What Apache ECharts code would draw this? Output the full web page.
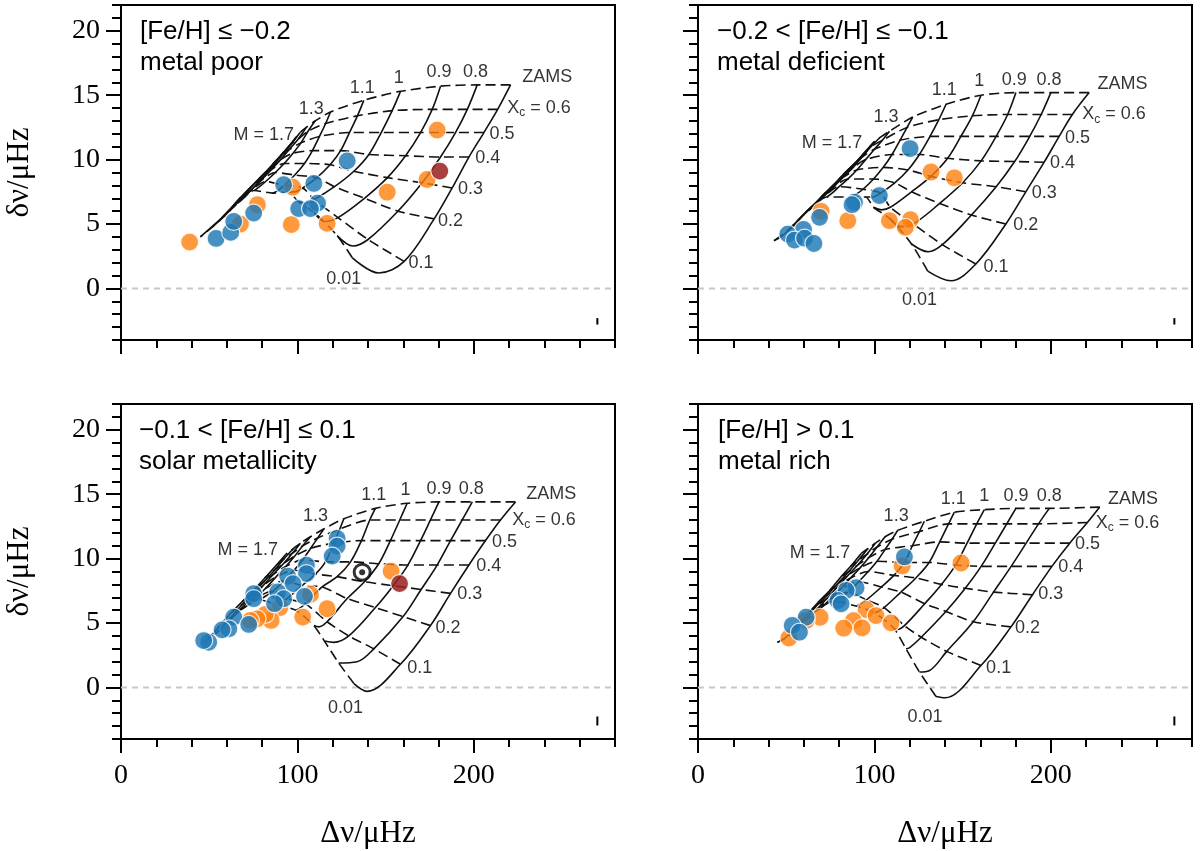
<!DOCTYPE html>
<html><head><meta charset="utf-8">
<script src="https://cdn.jsdelivr.net/npm/echarts@6.0.0/dist/echarts.min.js"></script>
<style>html,body{margin:0;padding:0;background:#fff}#c{width:1200px;height:851px}</style>
</head><body><div id="c"></div>
<script>
// ---------- tick values ----------
const xTicks = [0, 100, 200];
const yTicks = [0, 5, 10, 15, 20];
// Track point order: ZAMS, Xc=0.6, 0.5, 0.4, 0.3, 0.2, 0.1, hook, 0.01
const masses = ['0.7','0.8','0.9','1.0','1.1','1.2','1.3','1.4','1.5','1.6','1.7'];
const xcIndex = [0, 1, 2, 3, 4, 5, 6, 8];

// ---------- top-left: metal poor ----------
const tracksTL = [
 [[220.8,15.8],[213.5,13.9],[205.7,12.1],[197.2,10.2],[187.7,7.8],[177.5,5.4],[160.5,2.1],[146,1.2],[131,2.4]],
 [[201.9,15.8],[196.3,13.9],[189.6,12.1],[181.1,10.2],[170.7,8.2],[157,6.0],[140,3.8],[131.5,3.3],[122.5,4.1]],
 [[181.1,15.7],[176.4,13.9],[169.8,12.1],[161.3,10.3],[151,8.6],[138,7.0],[123,5.5],[115.5,5.2],[109.5,5.9]],
 [[158.4,15.3],[153.7,13.8],[147.5,12.1],[140.5,10.4],[132,9.1],[121,7.9],[109.5,6.9],[104.5,6.6],[100,6.8]],
 [[137.6,14.6],[134,13.4],[129.5,12.1],[124.5,10.7],[118.5,9.6],[111,8.6],[103,7.8],[98.5,7.5],[95,7.5]],
 [[118.7,13.7],[116,12.8],[112.5,11.8],[108.5,10.7],[104,9.7],[98.5,8.8],[92.5,8.0],[89,7.6],[86,7.4]],
 [[110,13.0],[106,12.2],[102,11.3],[97.5,10.5],[92.5,9.7],[87.5,9.0],[82,8.3],[78.5,7.9],[75.5,7.6]],
 [[105,12.5],[100.5,11.6],[95.5,10.8],[90.5,10.0],[85,9.2],[79.5,8.4],[73.5,7.6],[69.5,7.0],[66,6.6]],
 [[101.5,12.1],[96.5,11.2],[91,10.3],[85.5,9.4],[79.5,8.5],[73.5,7.6],[67,6.8],[62,6.1],[58.5,5.6]],
 [[99,11.7],[93,10.7],[87,9.8],[81,8.9],[74.5,8.0],[68,7.1],[61.5,6.1],[56,5.3],[52,4.8]],
 [[97,11.3],[90.5,10.3],[84,9.3],[77.5,8.4],[70.5,7.4],[63.5,6.4],[56.5,5.4],[50,4.6],[45,4.0]]
];
const blueTL = [[53.9,3.88],[62.2,4.35],[63.9,5.2],[75.2,5.85],[92.2,8.05],[109.3,8.15],[111.4,6.62],[100.7,6.2],[107.4,6.2],[128.2,9.9]];
const orangeTL = [[38.9,3.6],[67.7,5.0],[77.3,6.5],[97.3,7.86],[96.5,4.95],[116.8,5.05],[150.9,7.47],[173.5,8.46],[179.2,12.29]];
const redTL = [[180.7,9.11]];
const labelsTL = [['1.1',136.7,15.55],['1',157.5,16.3],['0.9',180.2,16.8],['0.8',200.9,16.8],['1.3',107.8,13.9],['M = 1.7',80.9,11.9],['ZAMS',241.6,16.4],['Xc = 0.6',236.9,14.0],['0.5',216,12.0],['0.4',207.9,10.1],['0.3',198.1,7.7],['0.2',186.8,5.26],['0.1',170.1,2.0],['0.01',126.3,0.7]];
const titleTL = ['[Fe/H] \u2264 \u22120.2', 'metal poor'];
const errTL = [270, -2.8, -2.3];

// ---------- top-right: metal deficient ----------
const tracksTR = [
 [[221.7,15.2],[212.2,13.5],[204.7,11.8],[196.2,9.8],[185.8,7.5],[174.5,5.0],[157.5,1.9],[143.4,0.6],[130.2,1.35]],
 [[200,15.2],[194.5,13.5],[188,11.8],[179.5,9.85],[169,7.9],[155,5.7],[138.5,3.4],[130.5,2.85],[121,3.45]],
 [[180.2,15.2],[175.5,13.5],[169,11.8],[160.5,9.9],[150,8.2],[137,6.6],[122,5.0],[115,4.8],[109,5.4]],
 [[160.4,15.0],[155.5,13.4],[149,11.8],[141.5,10.1],[132,8.7],[121,7.5],[109,6.3],[104,6.1],[99.5,6.3]],
 [[140.6,14.3],[136.5,13.1],[131.5,11.8],[125.5,10.4],[119,9.2],[111.5,8.2],[103.5,7.4],[99,7.1],[95,7.1]],
 [[121.7,13.3],[118.5,12.5],[114.5,11.5],[110,10.4],[105,9.4],[99.5,8.5],[93.5,7.7],[89.5,7.3],[86.5,7.1]],
 [[108.5,12.2],[104.5,11.5],[100,10.8],[95,10.0],[90,9.2],[85,8.5],[80,7.9],[76,7.4],[73,7.1]],
 [[103,11.7],[98,11.0],[93,10.2],[88,9.4],[82,8.6],[77,7.9],[71,7.1],[67,6.6],[64,6.2]],
 [[100,11.4],[94,10.5],[88,9.6],[82,8.8],[76,7.9],[70,7.1],[64,6.3],[59,5.6],[56,5.2]],
 [[98,11.1],[92,10.1],[85,9.2],[79,8.3],[72,7.4],[66,6.5],[59,5.6],[54,4.8],[50,4.4]],
 [[96,10.7],[89,9.7],[82,8.7],[75,7.8],[68,6.8],[61,5.9],[54,4.9],[48,4.1],[43,3.7]]
];
const blueTR = [[120.2,10.86],[102.8,7.21],[88.7,6.69],[87.3,6.5],[68.9,5.52],[59.8,4.58],[50.9,4.22],[54.7,3.75],[60.4,3.9],[65.7,3.49]];
const orangeTR = [[69.8,5.99],[132.1,9.04],[145.3,8.59],[84.9,5.26],[108.5,5.26],[120.4,5.34],[117.5,4.74]];
const redTR = [];
const labelsTR = [['1.1',139.6,15.4],['1',159.4,16.1],['0.9',179.2,16.2],['0.8',199,16.2],['1.3',106.6,13.3],['M = 1.7',76,11.3],['ZAMS',240.6,15.9],['Xc = 0.6',235.8,13.5],['0.5',215.1,11.7],['0.4',206.6,9.7],['0.3',196.2,7.4],['0.2',185.8,4.9],['0.1',168.9,1.7],['0.01',125.5,-0.9]];
const titleTR = ['\u22120.2 < [Fe/H] \u2264 \u22120.1', 'metal deficient'];
const errTR = [270, -2.8, -2.3];

// ---------- bottom-left: solar metallicity ----------
const tracksBL = [
 [[223.6,14.4],[215.1,13.0],[206.6,11.4],[197.2,9.5],[186.8,7.3],[175.4,4.8],[158.4,1.8],[139.5,-0.3],[132.0,0.3]],
 [[199.1,14.4],[193.4,13.0],[186.8,11.4],[179.2,9.5],[170.1,7.6],[159.9,5.5],[143.3,3.0],[133.8,2.0],[123.4,1.9]],
 [[180.2,14.4],[175.4,13.0],[169.8,11.4],[162.6,9.5],[154.3,7.9],[144.2,6.2],[129.1,4.0],[120.6,3.5],[115.3,3.6]],
 [[162.2,14.3],[158.0,13.0],[152.7,11.4],[146.1,9.6],[138.0,8.2],[128.2,6.9],[116.8,5.1],[112.1,4.7],[109.3,4.8]],
 [[144.2,13.9],[141.0,13.0],[136.3,11.4],[130.1,9.75],[122.5,8.6],[114.0,7.8],[104.5,6.5],[100.8,6.1],[98.9,6.0]],
 [[126.3,13.1],[124.0,12.3],[120.6,11.2],[115.9,9.75],[110.2,8.8],[102.6,7.9],[94.1,6.9],[90.4,6.55],[88.5,6.4]],
 [[114.9,12.3],[111.5,11.6],[107.5,10.8],[103,9.9],[98,9.1],[92.5,8.3],[86.5,7.5],[82,7.1],[78.5,6.8]],
 [[107.4,11.7],[103,11.0],[98.5,10.2],[93.5,9.4],[88,8.6],[82,7.7],[76,6.9],[71,6.3],[67.5,6.0]],
 [[101.7,11.2],[97,10.4],[92,9.6],[86.5,8.8],[80.5,7.9],[74.5,7.0],[68,6.1],[63,5.4],[59.5,5.0]],
 [[97.9,10.8],[92.5,10.0],[87,9.1],[81,8.2],[75,7.3],[68.5,6.4],[62,5.4],[57,4.6],[53,4.1]],
 [[93.2,10.3],[87.5,9.4],[81.5,8.5],[75.5,7.6],[69,6.7],[62.5,5.8],[56,4.8],[51,4.0],[47,3.5]]
];
const orangeBL = [[153.1,9.02],[107.4,7.22],[116.8,6.11],[103,5.46],[90,6.19],[85.1,5.2],[81.8,5.67],[77.1,5.33],[73.3,5.2]];
const blueBL = [[122.5,11.56],[122.5,10.97],[119.7,10.19],[105.1,9.49],[105.1,8.84],[94.5,8.63],[97.5,8.06],[75.2,7.28],[75.2,6.89],[88.8,7.41],[92.2,6.89],[104,7.07],[87,6.5],[63.9,5.46],[72.4,4.89],[61.1,4.55],[57.3,4.47],[49.7,3.51],[46.9,3.64]];
const redBL = [[157.9,8.06]];
const sunBL = [[136.7,8.95]];
const labelsBL = [['1.1',143.3,14.94],['1',161.2,15.3],['0.9',180.2,15.4],['0.8',198.5,15.4],['1.3',110.2,13.3],['M = 1.7',71.8,10.7],['ZAMS',243.9,15.0],['Xc = 0.6',239.7,13.0],['0.5',217.4,11.3],['0.4',208.5,9.43],['0.3',197.7,7.22],['0.2',185.3,4.6],['0.1',169.4,1.5],['0.01',127.2,-1.56]];
const titleBL = ['\u22120.1 < [Fe/H] \u2264 0.1', 'solar metallicity'];
const errBL = [270, -2.95, -2.25];

// ---------- bottom-right: metal rich ----------
const tracksBR = [
 [[227.7,14.0],[220.7,12.8],[210.7,11.2],[200.6,9.4],[189.6,7.2],[177.4,4.7],[160.4,1.7],[140,-0.8],[134.9,-0.7]],
 [[199.1,13.9],[193,12.7],[186,11.2],[177.5,9.4],[167.5,7.4],[156,5.1],[141,2.8],[131,1.3],[125.5,1.2]],
 [[180.2,13.9],[175,12.7],[168.5,11.2],[160.5,9.4],[151.5,7.7],[140.5,5.9],[126.5,3.9],[120,3.1],[117.9,3.0]],
 [[162.3,13.8],[158,12.7],[152.5,11.2],[146,9.5],[138,8.0],[128.5,6.5],[117,4.8],[113,4.5],[111,4.6]],
 [[145.3,13.6],[142,12.7],[137,11.3],[131,9.7],[123.5,8.5],[115,7.4],[105.5,6.2],[102,5.9],[100,5.8]],
 [[128.3,12.9],[125.5,12.1],[121.5,11.0],[117,9.7],[111,8.7],[104,7.8],[95.5,6.8],[92,6.5],[90,6.3]],
 [[113.2,12.2],[110,11.5],[106,10.7],[101.5,9.8],[96.5,9.0],[91,8.2],[85,7.4],[80.5,7.0],[77,6.7]],
 [[106,11.7],[101.5,10.9],[97,10.1],[92,9.3],[86.5,8.5],[80.5,7.6],[74.5,6.8],[70,6.2],[66.5,5.9]],
 [[100.5,11.2],[95.5,10.3],[90.5,9.5],[85,8.7],[79,7.8],[73,6.9],[67,6.0],[62,5.3],[58.5,4.9]],
 [[96.5,10.8],[91,9.9],[85.5,9.0],[79.5,8.1],[73.5,7.2],[67,6.3],[60.5,5.3],[55.5,4.5],[51.5,4.0]],
 [[92.5,10.4],[86.5,9.4],[80.5,8.5],[74.5,7.5],[68,6.6],[61.5,5.6],[55,4.7],[50,3.9],[45,3.5]]
];
const blueBR = [[117,10.13],[89.6,7.74],[84,7.53],[79.2,6.75],[81.1,6.49],[61.3,5.45],[53.4,4.81],[57.5,4.29]];
const orangeBR = [[115.7,9.43],[149.1,9.66],[95.3,6.05],[100.9,5.58],[109.4,5.01],[88.1,5.19],[93,4.62],[82.6,4.6],[69.2,5.45],[61.3,5.19],[51.5,3.84]];
const redBR = [];
const labelsBR = [['1.1',144.7,14.6],['1',162.3,14.86],['0.9',180.2,14.86],['0.8',199.1,14.86],['1.3',112.3,13.3],['M = 1.7',69.2,10.4],['ZAMS',246.6,14.6],['Xc = 0.6',243.4,12.8],['0.5',220.8,11.1],['0.4',211.3,9.35],['0.3',200,7.22],['0.2',186.8,4.62],['0.1',170.4,1.5],['0.01',128.7,-2.3]];
const titleBR = ['[Fe/H] > 0.1', 'metal rich'];
const errBR = [270, -2.95, -2.25];

// ---------- build ----------
const panels = [
  {tracks: tracksTL, blue: blueTL, orange: orangeTL, red: redTL, labels: labelsTL, title: titleTL, err: errTL, showX: false, showY: true},
  {tracks: tracksTR, blue: blueTR, orange: orangeTR, red: redTR, labels: labelsTR, title: titleTR, err: errTR, showX: false, showY: false},
  {tracks: tracksBL, blue: blueBL, orange: orangeBL, red: redBL, labels: labelsBL, title: titleBL, err: errBL, showX: true, showY: true, sun: sunBL},
  {tracks: tracksBR, blue: blueBR, orange: orangeBR, red: redBR, labels: labelsBR, title: titleBR, err: errBR, showX: true, showY: false}
];
const layout = [{left:121, top:5, tx:140, ty:32}, {left:698, top:5, tx:717, ty:32}, {left:121, top:404, tx:139, ty:431}, {left:698, top:404, tx:718, ty:431}];
const GW = 494, GH = 335;
const SANS = '"Liberation Sans", Arial, sans-serif';
const SERIF = '"Liberation Serif", "Times New Roman", serif';
const tickStyle = {color:'#000', width:2};

const grids = [], xAxes = [], yAxes = [], series = [], graphics = [];
panels.forEach((p, i) => {
  const L = layout[i];
  grids.push({left: L.left, top: L.top, width: GW, height: GH, show: true, borderColor: '#000', borderWidth: 2, backgroundColor: 'transparent'});
  xAxes.push({gridIndex: i, type: 'value', position: 'bottom', min: 0, max: 280, interval: 20,
    axisLine: {show: true, onZero: false, lineStyle: tickStyle},
    axisTick: {show: true, length: 8, lineStyle: tickStyle}, axisLabel: {show: false}, splitLine: {show: false}});
  xAxes.push({gridIndex: i, type: 'value', position: 'bottom', min: 0, max: 280,
    axisLine: {show: false, onZero: false},
    axisTick: {show: true, length: 14, customValues: xTicks, lineStyle: tickStyle},
    axisLabel: {show: p.showX, customValues: xTicks, fontFamily: SERIF, fontSize: 28, color: '#000', margin: 23},
    splitLine: {show: false},
    name: p.showX ? '\u0394\u03bd/\u03bcHz' : '', nameLocation: 'middle', nameGap: 79,
    nameTextStyle: {fontFamily: SERIF, fontSize: 31, color: '#000'}});
  yAxes.push({gridIndex: i, type: 'value', position: 'left', min: -4, max: 22, interval: 1,
    axisLine: {show: true, onZero: false, lineStyle: tickStyle},
    axisTick: {show: true, length: 9, lineStyle: tickStyle}, axisLabel: {show: false}, splitLine: {show: false}});
  yAxes.push({gridIndex: i, type: 'value', position: 'left', min: -4, max: 22,
    axisLine: {show: false, onZero: false},
    axisTick: {show: true, length: 15, customValues: yTicks, lineStyle: tickStyle},
    axisLabel: {show: p.showY, customValues: yTicks, fontFamily: SERIF, fontSize: 28, color: '#000', margin: 21},
    splitLine: {show: false},
    name: p.showY ? '\u03b4\u03bd/\u03bcHz' : '', nameLocation: 'middle', nameGap: 86, nameRotate: 90,
    nameTextStyle: {fontFamily: SERIF, fontSize: 31, color: '#000'}});
  const ax = {xAxisIndex: 2 * i, yAxisIndex: 2 * i};
  // zero reference line
  series.push(Object.assign({type: 'line', data: [[0, 0], [280, 0]], symbol: 'none', silent: true, z: 1,
    lineStyle: {color: '#c8c8c8', width: 2, type: [6, 5]}}, ax));
  // evolutionary tracks (solid)
  p.tracks.forEach((t, m) => {
    series.push(Object.assign({type: 'line', name: 'M' + masses[m], data: t, symbol: 'none', smooth: 0.35, silent: true, z: 2,
      lineStyle: {color: '#111', width: 1.6}}, ax));
  });
  // iso-Xc lines (dashed)
  xcIndex.forEach(k => {
    series.push(Object.assign({type: 'line', data: p.tracks.map(t => t[k]), symbol: 'none', smooth: 0.25, silent: true, z: 2,
      lineStyle: {color: '#111', width: 1.6, type: [10, 5]}}, ax));
  });
  // stars
  const dot = (data, color, op, z) => Object.assign({type: 'scatter', data: data, symbolSize: 18, z: z,
    itemStyle: {color: color, opacity: op, borderColor: '#ffffff', borderWidth: 1.2}}, ax);
  series.push(dot(p.orange, '#ff7f0e', 0.8, 5));
  series.push(dot(p.blue, '#1f77b4', 0.82, 6));
  if (p.red.length) series.push(dot(p.red, '#9a1f1f', 0.85, 7));
  if (p.sun) {
    series.push(Object.assign({type: 'scatter', data: p.sun, symbolSize: 16, z: 8,
      itemStyle: {color: '#fff', borderColor: '#000', borderWidth: 3}}, ax));
    series.push(Object.assign({type: 'scatter', data: p.sun, symbolSize: 6, z: 9,
      itemStyle: {color: '#000'}}, ax));
  }
  // grid annotations
  series.push(Object.assign({type: 'scatter', symbolSize: 0, silent: true, z: 10,
    data: p.labels.map(l => ({name: l[0], value: [l[1], l[2]]})),
    label: {show: true, position: 'inside', color: '#000', fontFamily: SANS, fontSize: 18,
      formatter: d => d.name === 'Xc = 0.6' ? '{a|X}{b|c}{a| = 0.6}' : d.name,
      rich: {a: {fontFamily: SANS, fontSize: 18, color: '#000'}, b: {fontFamily: SANS, fontSize: 12, color: '#000', padding: [10, 0, 0, 0]}}}}, ax));
  // representative error bar
  series.push(Object.assign({type: 'line', data: [[p.err[0], p.err[1]], [p.err[0], p.err[2]]], symbol: 'none', silent: true, z: 3,
    lineStyle: {color: '#000', width: 2}}, ax));
  // panel titles
  graphics.push({type: 'text', x: L.tx, y: L.ty, style: {text: p.title[0], font: '26px ' + SANS, fill: '#000', verticalAlign: 'middle', textVerticalAlign: 'middle'}});
  graphics.push({type: 'text', x: L.tx, y: L.ty + 31, style: {text: p.title[1], font: '26px ' + SANS, fill: '#000', verticalAlign: 'middle', textVerticalAlign: 'middle'}});
});

const chart = echarts.init(document.getElementById('c'), null, {renderer: 'canvas'});
chart.setOption({
  animation: false,
  backgroundColor: '#fff',
  grid: grids, xAxis: xAxes, yAxis: yAxes, series: series, graphic: graphics
});
</script>
</body></html>
